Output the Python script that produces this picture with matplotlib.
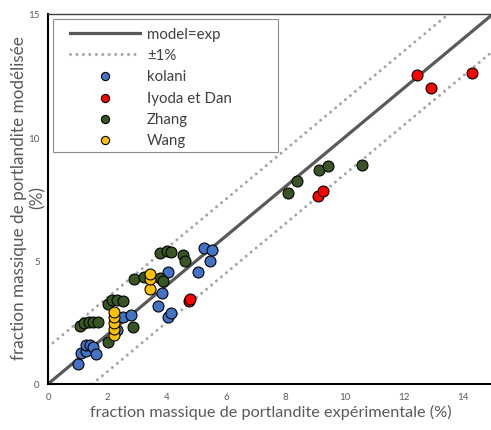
import matplotlib
matplotlib.use("Agg")
import matplotlib.pyplot as plt
from matplotlib.patches import Rectangle

plt.rcParams['font.family'] = ['Lato', 'DejaVu Sans']

# experimental vs modelled portlandite mass fraction (%)
kolani_x = [1.01, 1.12, 1.28, 1.28, 1.43, 1.53, 1.63, 2.33, 2.53, 2.80,
            3.72, 3.85, 4.05, 4.05, 4.15, 5.04, 5.25, 5.52, 5.46]
kolani_y = [0.83, 1.27, 1.33, 1.58, 1.60, 1.49, 1.20, 2.20, 2.70, 2.79,
            3.16, 3.69, 4.56, 2.70, 2.88, 4.53, 5.50, 5.43, 4.97]

iyoda_x = [4.75, 4.78, 9.10, 9.28, 12.44, 12.90, 14.28]
iyoda_y = [3.35, 3.45, 7.63, 7.81, 12.51, 12.01, 12.62]

zhang_x = [1.07, 1.22, 1.38, 1.53, 1.67, 2.02, 2.03, 2.15, 2.32, 2.52,
           2.85, 2.90, 3.23, 3.77, 3.89, 3.77, 4.00, 4.16, 4.55, 4.62,
           8.08, 8.38, 9.14, 9.45, 10.59]
zhang_y = [2.36, 2.46, 2.52, 2.52, 2.52, 1.71, 3.24, 3.40, 3.42, 3.36,
           2.30, 4.26, 4.35, 4.28, 4.17, 5.30, 5.40, 5.36, 5.23, 5.00,
           7.74, 8.22, 8.69, 8.82, 8.89]

wang_x = [2.22, 2.22, 2.22, 2.22, 2.22, 3.45, 3.45, 3.45]
wang_y = [2.00, 2.25, 2.48, 2.70, 2.92, 3.85, 4.25, 4.45]

ref_line = [0, 15]
offset = 1.5

W, H = 491, 431
fig = plt.figure(figsize=(W / 100, H / 100), dpi=100)
ax = fig.add_axes([48 / W, 1 - 385 / H, 445 / W, 370 / H])

ax.plot(ref_line, ref_line, color='#595959', lw=2.3, label='model=exp', zorder=2)
ax.plot([0, 15 - offset], [offset, 15], color='#a6a6a6', lw=2.2,
        ls=(0, (0.01, 2.1)), dash_capstyle='round', label='±1%', zorder=1)
ax.plot([offset, 15], [0, 15 - offset], color='#a6a6a6', lw=2.2,
        ls=(0, (0.01, 2.1)), dash_capstyle='round', zorder=1)

kw = dict(s=62, edgecolors='black', linewidths=0.8, zorder=3)
ax.scatter(kolani_x, kolani_y, color='#4472c4', label='kolani', **kw)
ax.scatter(iyoda_x, iyoda_y, color='#ff0000', label='Iyoda et Dan', **kw)
ax.scatter(zhang_x, zhang_y, color='#375623', label='Zhang', **kw)
ax.scatter(wang_x, wang_y, color='#ffc000', label='Wang', **kw)

ax.set_xlim(0, 15)
ax.set_ylim(0, 15)
ax.set_xticks(range(0, 15, 2))
ax.set_yticks([0, 5, 10, 15])
ax.tick_params(length=0, labelsize=7, colors='#595959', pad=6)

for side in ['left', 'bottom']:
    ax.spines[side].set_color('black')
    ax.spines[side].set_linewidth(1.5)
ax.spines['top'].set_color('#404040')
ax.spines['top'].set_linewidth(1)
ax.spines['right'].set_visible(False)

ax.set_xlabel('fraction massique de portlandite expérimentale (%)',
              fontsize=11.7, color='#595959', labelpad=2)
# y label on two lines, the unit set apart between the tick labels
ax.set_ylabel('fraction massique de portlandite modélisée',
              fontsize=12.3, color='#595959')
ax.yaxis.set_label_coords(-21 / 445, 0.505)
fig.text(38 / W, 1 - 198 / H, '(%)', rotation=90, fontsize=12.3,
         color='#595959', ha='center', va='center')

# legend box drawn separately so it can be wider than its entries
ax.add_patch(Rectangle((53 / W, 1 - 153 / H), 225 / W, 133 / H,
                       transform=fig.transFigure, facecolor='white',
                       edgecolor='#8c8c8c', lw=0.8, zorder=4))
leg = ax.legend(loc='upper left', bbox_to_anchor=(70 / W, 1 - 28 / H),
                bbox_transform=fig.transFigure, fontsize=10.8,
                handlelength=4.67, handletextpad=0.46, markerscale=0.75,
                frameon=False, borderpad=0, borderaxespad=0,
                labelspacing=0.48)
leg.set_zorder(5)
for t in leg.get_texts():
    t.set_color('#404040')

fig.savefig('out.png', dpi=100)
